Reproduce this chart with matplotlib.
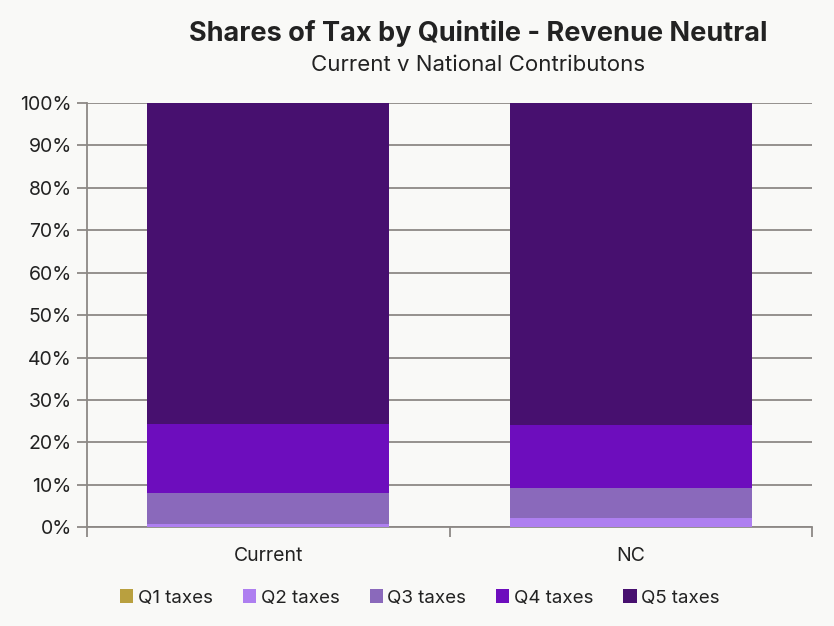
import matplotlib
matplotlib.use("Agg")
import matplotlib.pyplot as plt
from matplotlib.patches import Patch
from matplotlib.ticker import FuncFormatter, FixedLocator
import numpy as np

categories = ["Current", "NC"]
series_names = ["Q1 taxes", "Q2 taxes", "Q3 taxes", "Q4 taxes", "Q5 taxes"]
q1 = [0.0, 0.0]
q2 = [0.85, 2.2]
q3 = [7.25, 7.1]
q4 = [16.3, 14.8]
q5 = [75.6, 75.9]
series_values = [q1, q2, q3, q4, q5]
colors = ["#b9a03f", "#ae7ff0", "#8a69bb", "#6d0dbd", "#47106f"]
yticks = list(range(0, 101, 10))

bg = "#f9f9f7"
grid_c = "#8d8985"
txt_c = "#222222"
plt.rcParams['font.family'] = ['Inter', 'DejaVu Sans']

fig = plt.figure(figsize=(8.34, 6.26), dpi=100, facecolor=bg)
ax = fig.add_axes([87/834, 1 - 527.3/626, (812-87)/834, (527.3-103)/626])
ax.set_facecolor(bg)

x = np.arange(len(categories))
bottom = np.zeros(len(categories))
for name, vals, c in zip(series_names, series_values, colors):
    ax.bar(x, vals, bottom=bottom, width=0.667, color=c, label=name, zorder=3)
    bottom += np.array(vals)

ax.set_xlim(-0.5, 1.5)
ax.set_ylim(0, 100)
ax.set_yticks(yticks)
ax.yaxis.set_major_formatter(FuncFormatter(lambda v, p: f"{int(v)}%"))
ax.grid(axis='y', color=grid_c, linewidth=1.3, zorder=0)
ax.set_axisbelow(True)
ax.tick_params(axis='y', length=7, width=1.3, color=grid_c, labelsize=14,
               labelcolor=txt_c, pad=4)
ax.set_xticks(x)
ax.set_xticklabels(categories)
ax.xaxis.set_minor_locator(FixedLocator([-0.5, 0.5, 1.5]))
ax.tick_params(axis='x', which='major', length=0, labelsize=14, labelcolor=txt_c, pad=14)
ax.tick_params(axis='x', which='minor', length=7, width=1.3, color=grid_c)
for s in ['top', 'right']:
    ax.spines[s].set_visible(False)
for s in ['left', 'bottom']:
    ax.spines[s].set_color(grid_c)
    ax.spines[s].set_linewidth(1.3)

fig.text(478/834, 1 - 41/626, "Shares of Tax by Quintile - Revenue Neutral",
         ha='center', va='baseline', fontsize=19.5, fontweight='bold', color=txt_c)
fig.text(478/834, 1 - 71/626, "Current v National Contributons",
         ha='center', va='baseline', fontsize=16, color=txt_c)

handles = [Patch(facecolor=c, edgecolor='none') for c in colors]
fig.legend(handles, series_names, loc='center', bbox_to_anchor=(420/834, 1 - 598/626),
           ncol=5, frameon=False, fontsize=13.5, handlelength=0.7, handleheight=0.7,
           handletextpad=0.25, columnspacing=1.6, labelcolor=txt_c)

fig.savefig("out.png", dpi=100, facecolor=bg)
